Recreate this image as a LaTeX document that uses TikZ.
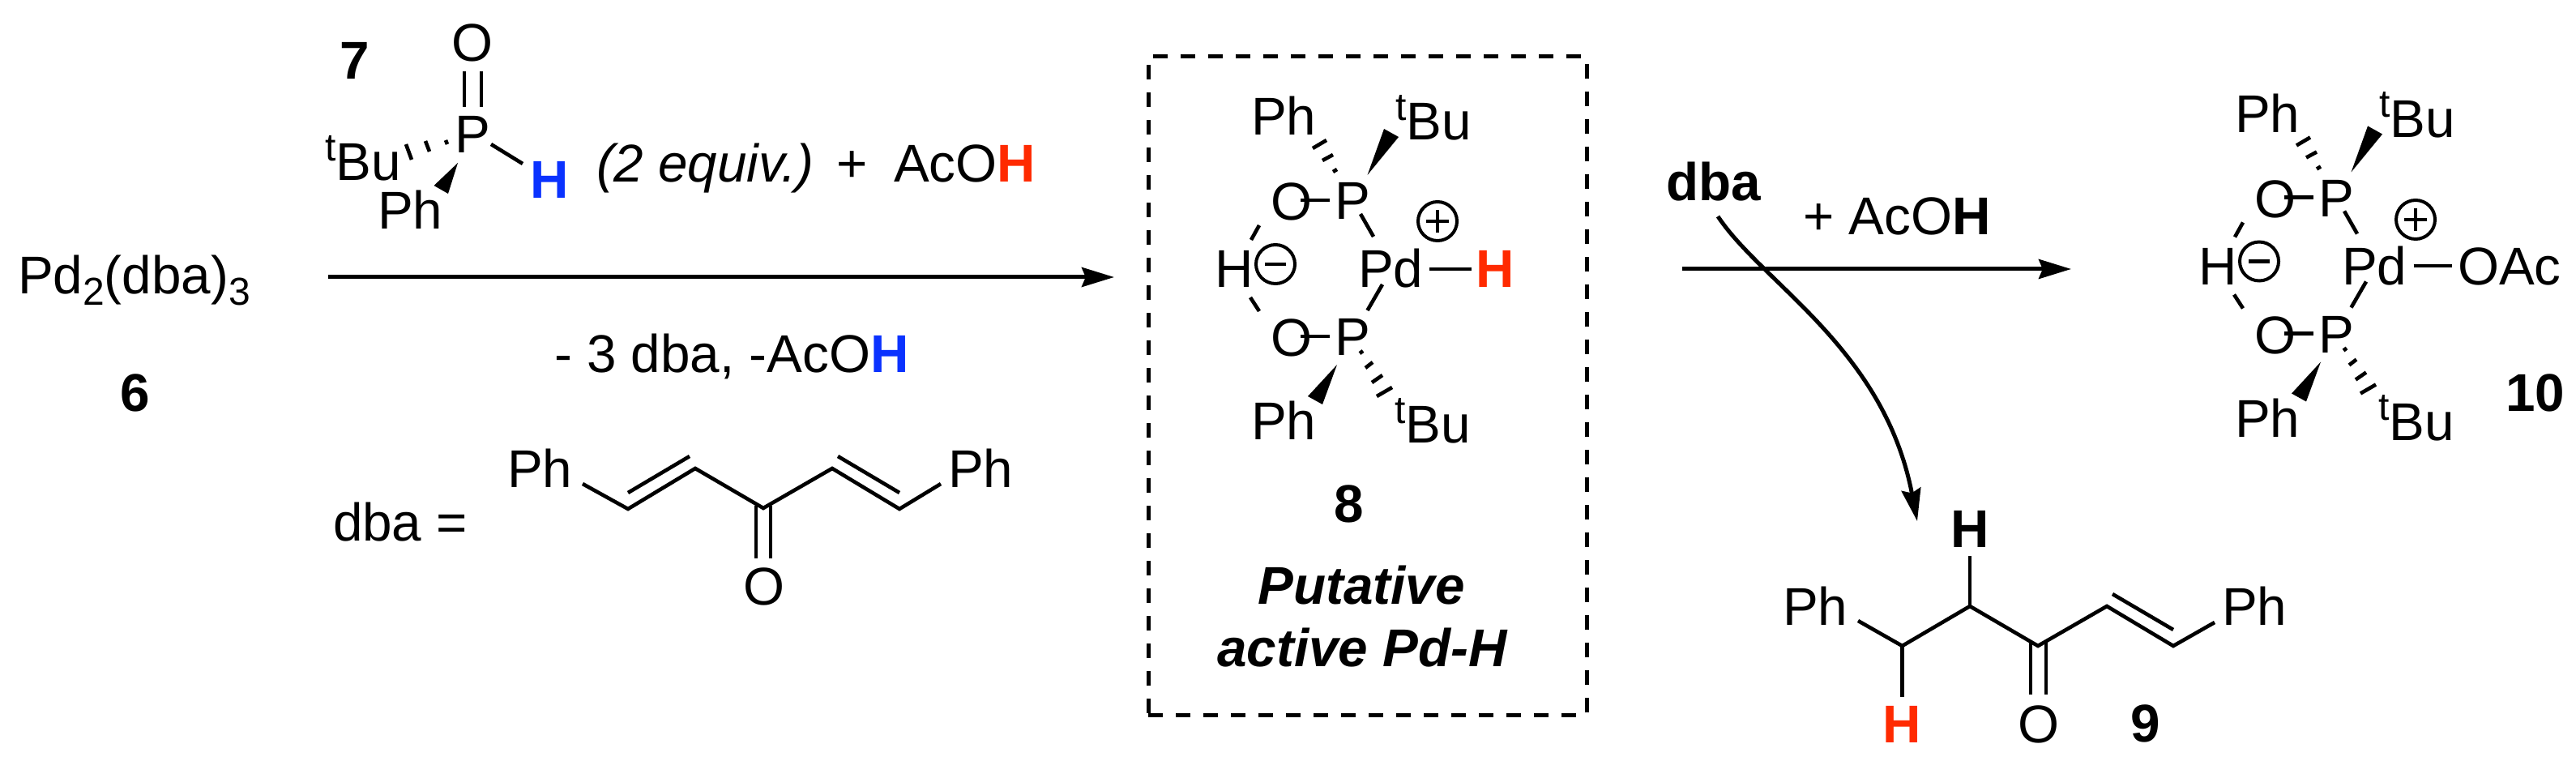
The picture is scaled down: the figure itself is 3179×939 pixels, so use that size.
\documentclass[tikz,border=0pt]{standalone}
\usepackage{fontspec}
\setmainfont{Liberation Sans}
\usetikzlibrary{arrows.meta}
\definecolor{redH}{HTML}{FF2A00}
\definecolor{blueH}{HTML}{0A32FF}
\newcommand{\smallsz}{\fontsize{12}{12}\selectfont}
\newcommand{\tbu}{\raisebox{6.2pt}{\smallsz t}Bu}
\newcommand{\redh}{\textcolor{redH}{\bfseries H}}
\newcommand{\blueh}{\textcolor{blueH}{\bfseries H}}
% named bond: name, start, end
\newcommand{\bnd}[3]{\coordinate (#1s) at (#2); \coordinate (#1e) at (#3); \draw[bond] (#1s) -- (#1e);}
\newcommand{\wedgeb}[4]{\coordinate (#1a) at (#2); \coordinate (#1b) at (#3); \coordinate (#1c) at (#4); \fill (#1a) -- (#1b) -- (#1c) -- cycle;}
\newcommand{\chargeplus}[2]{\node[chg] (#1) at (#2) {}; \draw[chgline] (#1.center) ++(-14,0) -- ++(28,0); \draw[chgline] (#1.center) ++(0,-14) -- ++(0,28);}
\newcommand{\chargeminus}[2]{\node[chg] (#1) at (#2) {}; \draw[chgline] (#1.center) ++(-13,0) -- ++(26,0);}
% shared ring: O-P/Pd/P-O with H
\newcommand{\ringcore}{%
  \node[chem] (Ot) at (1568,272) {O};
  \node[chem] (Pt) at (1647,271) {P};
  \node[chem] (Hc) at (1499,355) {H};
  \node[chem] (Pd) at (1676,355) {Pd};
  \node[chem] (Ob) at (1568,440) {O};
  \node[chem] (Pb) at (1647,439) {P};
  \bnd{otpt}{1605,247}{1641,247}
  \bnd{ptpd}{1679,264}{1695,292}
  \bnd{oth}{1554,278}{1544,296}
  \bnd{pdpb}{1706,351}{1687.5,383}
  \bnd{hob}{1543,367}{1554,384}
  \bnd{obpb}{1605,415}{1641,415}
  \chargeminus{minus}{1574,326}
  \node[chem] (tPh) at (1544,167) {Ph};
  \node[chem] (tBu) at (1722,173) {\tbu};
  \node[chem] (bPh) at (1544,543) {Ph};
  \node[chem] (bBu) at (1721,547) {\tbu};
  \bnd{h1}{1620,183}{1637,173}
  \bnd{h2}{1632,198}{1645,191}
  \bnd{h3}{1645,212}{1650,209}
  \wedgeb{wt}{1687.5,216}{1708,159}{1726,169}
  \bnd{h4}{1678,436}{1682,433}
  \bnd{h5}{1685,454}{1694,447}
  \bnd{h6}{1693,472}{1706,463}
  \bnd{h7}{1699,489}{1718,478}
  \wedgeb{wb}{1650,450}{1614,489}{1632,499}
}
\begin{document}
\begin{tikzpicture}[x=0.25pt,y=-0.25pt,
  chem/.style={anchor=base west,inner sep=0pt,outer sep=0pt,font=\fontsize{16.4}{19.7}\selectfont},
  mid/.style={anchor=base,inner sep=0pt,outer sep=0pt,font=\fontsize{16.4}{19.7}\selectfont},
  bond/.style={line width=1.15pt},
  rxn/.style={line width=1.25pt,-{Stealth[length=10pt,width=6pt,inset=1.2pt]}},
  chg/.style={circle,draw,line width=1pt,minimum size=12pt,inner sep=0pt,outer sep=0pt},
  chgline/.style={line width=1.1pt}]
\useasboundingbox (0,0) rectangle (3179,939);

% left: precursor
\node[chem] (pd2) at (22,363) {Pd\raisebox{-3.5pt}{\smallsz 2}(dba)\raisebox{-3.5pt}{\smallsz 3}};
\node[chem] (six) at (148,508) {\bfseries 6};

% phosphine oxide 7
\node[chem] (seven) at (419,98) {\bfseries 7};
\node[mid] (O7) at (583,76) {O};
\node[chem] (P7) at (561,189) {P};
\node[chem] (Bu7) at (401,223) {\tbu};
\node[chem] (Ph7) at (466,283) {Ph};
\node[chem] (H7) at (654,245) {\blueh};
\bnd{po1}{573,88}{573,132}
\bnd{po2}{594,88}{594,132}
\bnd{ph7}{606,178}{645,202}
\bnd{hs1}{550,173}{552,178}
\bnd{hs2}{525,174}{530,187}
\bnd{hs3}{501,178}{508,197}
\wedgeb{w7}{565,201}{535.5,229}{553,239}
\node[chem] (equiv) at (736,225) {\itshape (2 equiv.)};
\node[chem] (plus1) at (1032,225) {+};
\node[chem] (acoh1) at (1103,225) {AcO\redh};

% arrow 1
\coordinate (a1s) at (405,342);
\coordinate (a1e) at (1375,342);
\draw[rxn] (a1s) -- (a1e);
\node[chem] (minus3) at (684,460) {- 3 dba, -AcO\blueh};

% dba
\node[chem] (dbal) at (411,668) {dba =};
\node[chem] (PhL) at (626,602) {Ph};
\node[chem] (PhR) at (1170,602) {Ph};
\node[mid] (Odba) at (943,747) {O};
\coordinate (da) at (719,597);
\coordinate (db) at (775,628);
\coordinate (dc) at (858,578);
\coordinate (dd) at (942,627);
\coordinate (de) at (1027,578);
\coordinate (df) at (1110,628);
\coordinate (dg) at (1161,597);
\draw[bond,line join=miter] (da) -- (db) -- (dc) -- (dd) -- (de) -- (df) -- (dg);
\bnd{dd1}{775,608}{851,563}
\bnd{dd2}{1034,563}{1110,608}
\bnd{co1}{933,624}{933,689}
\bnd{co2}{951,624}{951,689}

% box and compound 8
\node[draw,line width=1.25pt,dash pattern=on 4.5pt off 4pt,minimum width=135.25pt,minimum height=203pt,inner sep=0pt,outer sep=0pt] (box) at (1687.5,476) {};
\ringcore
\chargeplus{plus8}{1774,273}
\bnd{pdh}{1764,332}{1816,332}
\node[chem] (H8) at (1821,355) {\redh};
\node[mid] (eight) at (1665,645) {\bfseries 8};
\node[mid] (put1) at (1680,746) {\bfseries\itshape Putative};
\node[mid] (put2) at (1681,823) {\bfseries\itshape active Pd-H};

% arrow 2
\node[chem] (dbab) at (2056,248) {\bfseries dba};
\node[chem] (acoh2) at (2225,290) {+ AcO{\bfseries H}};
\coordinate (a2s) at (2076,332);
\coordinate (a2e) at (2556,332);
\draw[rxn] (a2s) -- (a2e);
\coordinate (c1s) at (2120,267);
\coordinate (c1e) at (2366,643);
\draw[rxn] (c1s) .. controls (2175,350) and (2325,430) .. (c1e);

% compound 10
\begin{scope}[shift={(1214,-3.5)},name prefix=ten-]
\ringcore
\end{scope}
\chargeplus{plus10}{2981,271}
\bnd{pdo}{2978.5,328}{3026,328}
\node[chem] (OAc) at (3033,352) {OAc};
\node[chem] (ten) at (3092,508) {\bfseries 10};

% compound 9
\node[chem] (Ph9l) at (2200,772) {Ph};
\node[chem] (Ph9r) at (2742,772) {Ph};
\node[chem] (H9t) at (2407,676) {\bfseries H};
\node[chem] (H9b) at (2323,917) {\redh};
\node[mid] (O9) at (2516,917) {O};
\node[mid] (nine) at (2648,916) {\bfseries 9};
\coordinate (na) at (2293,766);
\coordinate (nb) at (2347.5,797);
\coordinate (nc) at (2431,748);
\coordinate (nd) at (2515,797);
\coordinate (ne) at (2600,748);
\coordinate (nf) at (2682,797);
\coordinate (ng) at (2733,768);
\draw[bond] (na) -- (nb) -- (nc) -- (nd) -- (ne) -- (nf) -- (ng);
\coordinate (nhb) at (2347.5,860);
\coordinate (nht) at (2431,686);
\draw[bond] (nb) -- (nhb);
\draw[bond] (nc) -- (nht);
\bnd{ndd}{2607,733}{2682,777}
\bnd{nco1}{2506,793}{2506,857}
\bnd{nco2}{2525,793}{2525,857}
\end{tikzpicture}
\end{document}
